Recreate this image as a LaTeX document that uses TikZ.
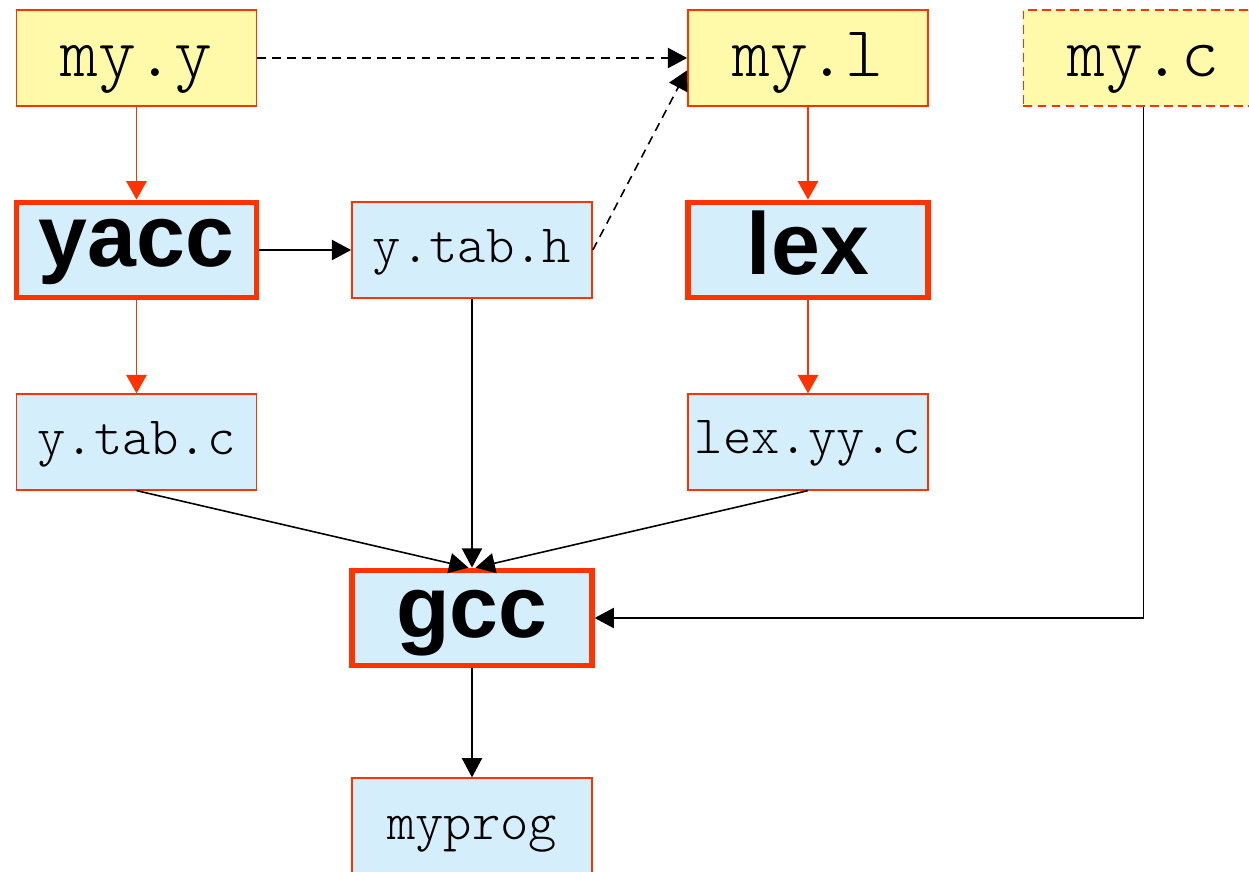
\documentclass[tikz,border=0pt]{standalone}
\usepackage{fontspec}
\setsansfont{Liberation Sans}
\setmonofont{Latin Modern Mono Light}
\usetikzlibrary{arrows.meta}
\definecolor{fy}{RGB}{255,250,170}
\definecolor{fb}{RGB}{212,238,252}
\definecolor{rd}{RGB}{255,51,0}
\tikzset{
  box/.style={rectangle, inner sep=0pt, minimum width=241*0.567pt, minimum height=96*0.567pt, draw=rd, line width=0.9pt, text depth=0pt},
  src/.style={box, fill=fy, font=\ttfamily\fontsize{41}{46}\selectfont, text height=21.5pt},
  file/.style={box, fill=fb, font=\ttfamily\fontsize{30.7}{34}\selectfont},
  tool/.style={box, fill=fb, line width=2.9pt, font=\sffamily\bfseries\fontsize{50}{56}\selectfont},
  redarr/.style={draw=rd, line width=1.1pt, -{Triangle[length=10.5pt,width=11.5pt]}, fill=rd},
  blkarr/.style={draw=black, line width=0.9pt, -{Triangle[length=11pt,width=11.5pt]}},
  dasharr/.style={blkarr, dashed, dash pattern=on 5pt off 3.5pt}
}
\begin{document}
\begin{tikzpicture}[x=0.02cm,y=-0.02cm]
\clip (0,0) rectangle (1249,872);
\fill[white] (0,0) rectangle (1249,872);
\node[src] (my) at (136.5,58) {my.y};
\node[src] (ml) at (808,58) {my.l};
\node[src, dashed, dash pattern=on 5pt off 3pt] (mc) at (1143.5,58) {my.c};
\node[tool, text height=19.3pt] (yacc) at (136.5,250) {yacc};
\node[file, text height=14.7pt] (yth) at (472,250) {y.tab.h};
\node[tool, text height=28.3pt] (lex) at (808,250) {lex};
\node[file, text height=14.7pt] (ytc) at (136.5,442) {y.tab.c};
\node[file, text height=13.6pt] (lyc) at (808,442) {lex.yy.c};
\node[tool, text height=22.7pt] (gcc) at (472,618) {gcc};
\node[file, text height=15.9pt] (prog) at (472,826) {myprog};

\draw[redarr] (my.south) -- (yacc.north);
\draw[redarr] (yacc.south) -- (ytc.north);
\draw[redarr] (ml.south) -- (lex.north);
\draw[redarr] (lex.south) -- (lyc.north);
\draw[blkarr] (yacc.east) -- (yth.west);
\draw[dasharr] (my.east) -- (ml.west);
\draw[dasharr] (yth.east) -- ([yshift=-7pt]ml.west);
\draw[blkarr] (yth.south) -- (gcc.north);
\draw[blkarr] (ytc.south) -- ([xshift=-2pt]gcc.north);
\draw[blkarr] (lyc.south) -- ([xshift=2pt]gcc.north);
\draw[blkarr] (mc.south) |- (gcc.east);
\draw[blkarr] (gcc.south) -- (prog.north);
\end{tikzpicture}
\end{document}
